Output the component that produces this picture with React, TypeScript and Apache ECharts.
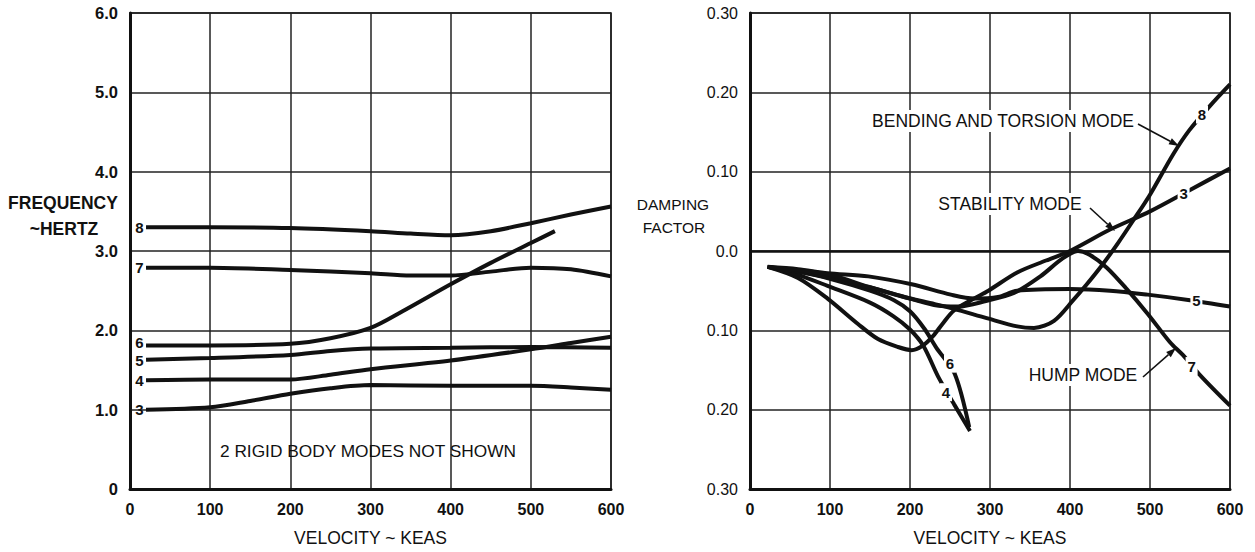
import React, { useEffect, useRef } from "react";
import * as echarts from "echarts";

const FONT = "'Liberation Sans', Arial, sans-serif";
const INK = "#111";

// ---- axis ticks ----
const velocityRange = [0, 600];
const velocityStep = 100;
const freqRange = [0, 6];
const freqStep = 1;
const dampRange = [-0.3, 0.3];
const dampStep = 0.1;

// ---- left chart: frequency (Hz) vs velocity (KEAS) ----
const freqMode8 = [[20, 3.3], [100, 3.3], [200, 3.29], [300, 3.25], [350, 3.22], [400, 3.2], [450, 3.25], [500, 3.35], [550, 3.46], [600, 3.56]];
const freqMode7 = [[20, 2.79], [100, 2.79], [200, 2.76], [300, 2.72], [350, 2.69], [400, 2.69], [450, 2.74], [500, 2.79], [550, 2.77], [600, 2.68]];
const freqMode6 = [[20, 1.81], [100, 1.81], [200, 1.83], [250, 1.9], [300, 2.03], [340, 2.24], [400, 2.58], [450, 2.85], [500, 3.1], [530, 3.25]];
const freqMode5 = [[20, 1.63], [100, 1.65], [200, 1.69], [250, 1.74], [300, 1.77], [400, 1.78], [500, 1.79], [600, 1.78]];
const freqMode4 = [[20, 1.37], [100, 1.38], [200, 1.38], [250, 1.44], [300, 1.51], [400, 1.62], [500, 1.76], [550, 1.84], [600, 1.92]];
const freqMode3 = [[20, 1.0], [100, 1.03], [150, 1.11], [200, 1.2], [250, 1.27], [300, 1.31], [400, 1.3], [500, 1.3], [550, 1.28], [600, 1.25]];

// ---- right chart: damping factor vs velocity (KEAS) ----
const dampMode3 = [[22, -0.02], [60, -0.034], [97, -0.06], [135, -0.092], [160, -0.111], [185, -0.121], [202, -0.125], [215, -0.12], [229, -0.107], [242, -0.09], [255, -0.075], [280, -0.06], [298, -0.05], [334, -0.027], [370, -0.012], [400, 0.0], [450, 0.027], [500, 0.05], [550, 0.077], [600, 0.104]];
const dampMode4 = [[22, -0.02], [60, -0.03], [97, -0.044], [150, -0.065], [179, -0.082], [200, -0.099], [217, -0.12], [235, -0.158], [255, -0.193], [275, -0.227]];
const dampMode6 = [[22, -0.02], [60, -0.026], [100, -0.035], [150, -0.05], [180, -0.062], [200, -0.076], [218, -0.098], [233, -0.122], [256, -0.155], [274, -0.222]];
const dampMode5 = [[22, -0.02], [60, -0.023], [97, -0.028], [148, -0.032], [202, -0.042], [251, -0.055], [280, -0.06], [310, -0.058], [334, -0.05], [400, -0.048], [450, -0.05], [497, -0.055], [550, -0.062], [600, -0.07]];
const dampMode7 = [[22, -0.02], [60, -0.026], [100, -0.034], [150, -0.046], [190, -0.057], [230, -0.068], [260, -0.07], [295, -0.063], [330, -0.053], [363, -0.032], [390, -0.01], [410, 0.0], [425, -0.005], [446, -0.021], [471, -0.048], [497, -0.079], [525, -0.115], [541, -0.131], [564, -0.158], [600, -0.195]];
const dampMode8 = [[22, -0.02], [60, -0.024], [100, -0.03], [148, -0.045], [189, -0.057], [231, -0.067], [255, -0.073], [297, -0.085], [334, -0.095], [355, -0.097], [380, -0.088], [404, -0.062], [421, -0.042], [440, -0.018], [460, 0.01], [480, 0.04], [500, 0.071], [529, 0.122], [549, 0.152], [575, 0.183], [600, 0.21]];

// mode-number tags placed on the damping curves (value coordinates)
const dampTagModes = ["8", "3", "5", "7", "6", "4"];
const dampTagAt = [[565, 0.172], [542, 0.072], [558, -0.063], [552, -0.145], [250, -0.142], [245, -0.178]];

// vertical nudges (px) of the start tags on the frequency curves, to keep them apart
const freqTagNudge = { "8": 0, "7": 0, "6": -3, "5": 1, "4": 0, "3": 0 } as Record<string, number>;

const textStyle = (size: number, weight: string = "normal") => ({
  fontFamily: FONT,
  fontSize: size,
  fontWeight: weight,
  fill: INK,
});

function makeText(text: string, x: number, y: number, size: number, weight = "normal", bg = false) {
  return {
    type: "text",
    x,
    y,
    z: 100,
    style: {
      text,
      ...textStyle(size, weight),
      align: "center",
      verticalAlign: "middle",
      textAlign: "center",
      textVerticalAlign: "middle",
      backgroundColor: bg ? "#fff" : undefined,
      padding: bg ? [2, 3] : 0,
    },
  };
}

function makeArrow(x1: number, y1: number, x2: number, y2: number) {
  const dx = x2 - x1;
  const dy = y2 - y1;
  const len = Math.sqrt(dx * dx + dy * dy);
  const ux = dx / len;
  const uy = dy / len;
  const hl = 10;
  const hw = 3.5;
  const bx = x2 - ux * hl;
  const by = y2 - uy * hl;
  return [
    { type: "line", z: 100, shape: { x1, y1, x2: bx, y2: by }, style: { stroke: INK, lineWidth: 1.6 } },
    {
      type: "polygon",
      z: 100,
      shape: { points: [[x2, y2], [bx - uy * hw, by + ux * hw], [bx + uy * hw, by - ux * hw]] },
      style: { fill: INK },
    },
  ];
}

function curve(name: string, data: number[][], gi: number, extra: any = {}) {
  return {
    type: "line",
    name,
    data,
    xAxisIndex: gi,
    yAxisIndex: gi,
    symbol: "none",
    showSymbol: false,
    smooth: 0.3,
    silent: true,
    lineStyle: { color: INK, width: 4 },
    ...extra,
  };
}

function startTag(label: string, data: number[][]) {
  return {
    markPoint: {
      silent: true,
      symbol: "circle",
      symbolSize: 1,
      itemStyle: { color: "rgba(0,0,0,0)" },
      label: {
        show: true,
        position: "left",
        distance: 2,
        offset: [0, freqTagNudge[label] || 0],
        formatter: label,
        color: INK,
        fontFamily: FONT,
        fontSize: 15,
        fontWeight: "bold",
      },
      data: [{ coord: data[0] }],
    },
  };
}

function gapTag(label: string, at: number[]) {
  return {
    markPoint: {
      silent: true,
      symbol: "rect",
      symbolSize: [12, 18],
      itemStyle: { color: "#fff" },
      label: {
        show: true,
        position: "inside",
        formatter: label,
        color: INK,
        fontFamily: FONT,
        fontSize: 15,
        fontWeight: "bold",
      },
      data: [{ coord: at }],
    },
  };
}

function xAxis(gi: number) {
  return {
    gridIndex: gi,
    type: "value",
    min: velocityRange[0],
    max: velocityRange[1],
    interval: velocityStep,
    axisLine: { show: true, onZero: false, lineStyle: { color: INK, width: 3 } },
    axisTick: { show: false },
    axisLabel: { color: INK, fontFamily: FONT, fontSize: 16, fontWeight: "bold", margin: 12, showMinLabel: true, showMaxLabel: true },
    splitLine: { show: true, lineStyle: { color: "#222", width: 1.5 } },
    name: "VELOCITY ~ KEAS",
    nameLocation: "middle",
    nameGap: 40,
    nameTextStyle: { color: INK, fontFamily: FONT, fontSize: 17.5 },
  };
}

export default function App() {
  const ref = useRef<HTMLDivElement>(null);

  useEffect(() => {
    if (!ref.current) return;
    const chart = echarts.init(ref.current, null, { renderer: "svg" });

    const gapTags = dampTagModes.map((m, i) => ({ mode: m, at: dampTagAt[i] }));
    const tagFor = (m: string) => gapTags.find((t) => t.mode === m)!.at;

    const option: any = {
      animation: false,
      backgroundColor: "#fff",
      grid: [
        { left: 130, top: 13, width: 481, height: 479, show: true, borderColor: INK, borderWidth: 1.5 },
        { left: 750, top: 13, width: 480, height: 479, show: true, borderColor: INK, borderWidth: 1.5 },
      ],
      xAxis: [xAxis(0), xAxis(1)],
      yAxis: [
        {
          gridIndex: 0,
          type: "value",
          min: freqRange[0],
          max: freqRange[1],
          interval: freqStep,
          axisLine: { show: true, lineStyle: { color: INK, width: 3 } },
          axisTick: { show: false },
          axisLabel: {
            color: INK,
            fontFamily: FONT,
            fontSize: 16.5,
            fontWeight: "bold",
            margin: 12,
            formatter: (v: number) => (v === 0 ? "0" : v.toFixed(1)),
          },
          splitLine: { show: true, lineStyle: { color: "#222", width: 1.5 } },
        },
        {
          gridIndex: 1,
          type: "value",
          min: dampRange[0],
          max: dampRange[1],
          interval: dampStep,
          axisLine: { show: true, lineStyle: { color: INK, width: 3 } },
          axisTick: { show: false },
          axisLabel: {
            color: INK,
            fontFamily: FONT,
            fontSize: 16,
            margin: 12,
            formatter: (v: number) => (Math.abs(v) < 1e-9 ? "0.0" : Math.abs(v).toFixed(2)),
          },
          splitLine: { show: true, lineStyle: { color: "#222", width: 1.5 } },
        },
      ],
      series: [
        curve("F8", freqMode8, 0, startTag("8", freqMode8)),
        curve("F7", freqMode7, 0, startTag("7", freqMode7)),
        curve("F6", freqMode6, 0, startTag("6", freqMode6)),
        curve("F5", freqMode5, 0, startTag("5", freqMode5)),
        curve("F4", freqMode4, 0, startTag("4", freqMode4)),
        curve("F3", freqMode3, 0, startTag("3", freqMode3)),
        curve("D3", dampMode3, 1, gapTag("3", tagFor("3"))),
        curve("D4", dampMode4, 1, gapTag("4", tagFor("4"))),
        curve("D6", dampMode6, 1, gapTag("6", tagFor("6"))),
        curve("D5", dampMode5, 1, {
          ...gapTag("5", tagFor("5")),
          markLine: {
            silent: true,
            symbol: ["none", "none"],
            label: { show: false },
            lineStyle: { color: INK, width: 2.5, type: "solid" },
            data: [{ yAxis: 0 }],
          },
        }),
        curve("D7", dampMode7, 1, gapTag("7", tagFor("7"))),
        curve("D8", dampMode8, 1, gapTag("8", tagFor("8"))),
      ],
      graphic: [
        makeText("FREQUENCY", 63, 203, 17.5, "bold"),
        makeText("~HERTZ", 64, 229, 17.5, "bold"),
        makeText("DAMPING", 673, 204, 15.5),
        makeText("FACTOR", 674, 227, 15.5),
        makeText("2 RIGID BODY MODES NOT SHOWN", 368, 451, 17.3),
        makeText("BENDING AND TORSION MODE", 1003, 121, 17.5, "normal", true),
        makeText("STABILITY MODE", 1010, 204, 17.5, "normal", true),
        makeText("HUMP MODE", 1083, 375, 17.5, "normal", true),
        ...makeArrow(1138, 124, 1179, 146),
        ...makeArrow(1090, 208, 1115, 231),
        ...makeArrow(1143, 377, 1176, 348),
      ],
    };

    chart.setOption(option);
    return () => chart.dispose();
  }, []);

  return (
    <div
      ref={ref}
      style={{ position: "absolute", left: 0, top: 0, width: 1255, height: 552, background: "#fff" }}
    />
  );
}
